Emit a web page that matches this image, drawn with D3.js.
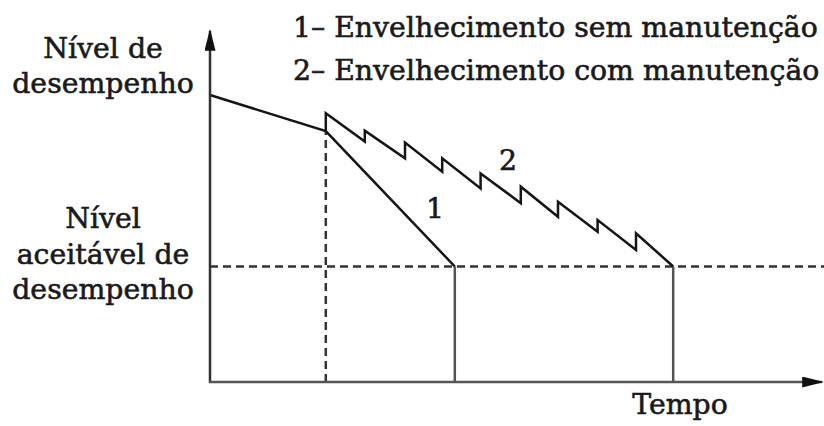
<!DOCTYPE html>
<html>
<head>
<meta charset="utf-8">
<script src="https://cdn.jsdelivr.net/npm/d3@7"></script>
<style>
  html, body { margin: 0; padding: 0; background: #fff; }
  svg { display: block; }
  text { font-family: "DejaVu Serif", serif; fill: #1a1a1a; stroke: #1a1a1a; stroke-width: 0.6; }
</style>
</head>
<body>
<div id="chart"></div>
<script>
// data (time 0-100, performance 0-100)
const interventionTime = 19.3;
const acceptableLevel = 33;

// curve 1: ageing without maintenance
const curve1 = [[0, 82], [19.3, 71.7], [40.8, 33]];

// curve 2: ageing with maintenance (sawtooth: [time, before, after])
const maintenance = [
  [19.3, 71.7, 76.8],
  [25.8, 68.7, 71.8],
  [32.5, 63.9, 68.4],
  [38.7, 60.1, 63.9],
  [45.1, 55.3, 59.6],
  [51.8, 51.1, 55.8],
  [58.0, 47.2, 51.5],
  [64.6, 42.9, 46.3],
  [71.0, 37.7, 42.5]
];
const endOfLife2 = 77.2;

const yLabelTop = ['Nível de', 'desempenho'];
const yLabelAcceptable = ['Nível', 'aceitável de', 'desempenho'];
const legendLines = ['1– Envelhecimento sem manutenção', '2– Envelhecimento com manutenção'];
const xLabel = 'Tempo';

const width = 824, height = 426;

const svg = d3.select('#chart').append('svg')
    .attr('width', width)
    .attr('height', height);

const x = d3.scaleLinear().domain([0, 100]).range([210, 810]);
const y = d3.scaleLinear().domain([0, 100]).range([382, 32]);

const defs = svg.append('defs');
defs.append('marker')
    .attr('id', 'arrow')
    .attr('viewBox', '0 0 10 10')
    .attr('preserveAspectRatio', 'none')
    .attr('refX', 9).attr('refY', 5)
    .attr('markerWidth', 22).attr('markerHeight', 11)
    .attr('markerUnits', 'userSpaceOnUse')
    .attr('orient', 'auto')
    .append('path')
    .attr('d', 'M0,0 L10,5 L0,10 Z')
    .attr('fill', '#111');

const line = d3.line().x((d) => x(d[0])).y((d) => y(d[1]));

// dashed guides
svg.append('line')
    .attr('x1', x(0)).attr('x2', x(103))
    .attr('y1', y(acceptableLevel)).attr('y2', y(acceptableLevel))
    .attr('stroke', '#333').attr('stroke-width', 2.5)
    .attr('stroke-dasharray', '8,5');
svg.append('line')
    .attr('x1', x(interventionTime)).attr('x2', x(interventionTime))
    .attr('y1', y(0)).attr('y2', y(maintenance[0][1]))
    .attr('stroke', '#333').attr('stroke-width', 2.5)
    .attr('stroke-dasharray', '8,5');

// end-of-life verticals
[curve1[curve1.length - 1][0], endOfLife2].forEach((t) => {
  svg.append('line')
      .attr('x1', x(t)).attr('x2', x(t))
      .attr('y1', y(acceptableLevel)).attr('y2', y(0))
      .attr('stroke', '#555').attr('stroke-width', 2.5);
});

// curve 1
svg.append('path')
    .attr('d', line(curve1))
    .attr('fill', 'none')
    .attr('stroke', '#151515')
    .attr('stroke-width', 2.5);

// curve 2
const pts2 = [];
maintenance.forEach((m) => {
  pts2.push([m[0], m[1]]);
  pts2.push([m[0], m[2]]);
});
pts2.push([endOfLife2, acceptableLevel]);
svg.append('path')
    .attr('d', line(pts2))
    .attr('fill', 'none')
    .attr('stroke', '#151515')
    .attr('stroke-width', 2.5)
    .attr('stroke-linejoin', 'miter');

// axes
svg.append('line')
    .attr('x1', x(0)).attr('x2', x(0))
    .attr('y1', y(0) + 1).attr('y2', y(100.3))
    .attr('stroke', '#333').attr('stroke-width', 2.5)
    .attr('marker-end', 'url(#arrow)');
svg.append('line')
    .attr('x1', x(0) - 1).attr('x2', x(102))
    .attr('y1', y(0)).attr('y2', y(0))
    .attr('stroke', '#555').attr('stroke-width', 2.5)
    .attr('marker-end', 'url(#arrow)');

// labels: fit font size so the legend spans the width seen in the picture
const probe = svg.append('text').attr('font-size', 24).text(legendLines[0]);
const fs = 24 * 525 / probe.node().getComputedTextLength();
probe.remove();

const addLines = (lines, cx, baseline, step) => {
  lines.forEach((s, i) => {
    svg.append('text')
        .attr('x', cx).attr('y', baseline + i * step)
        .attr('text-anchor', 'middle')
        .attr('font-size', fs)
        .text(s);
  });
};
addLines(yLabelTop, 103, 58, 35);
addLines(yLabelAcceptable, 103, 228, 35.5);

legendLines.forEach((s, i) => {
  svg.append('text')
      .attr('x', 293).attr('y', 37 + i * 43)
      .attr('font-size', fs)
      .text(s);
});

svg.append('text')
    .attr('x', 680).attr('y', 414)
    .attr('text-anchor', 'middle')
    .attr('font-size', fs)
    .text(xLabel);

svg.append('text')
    .attr('x', 435).attr('y', 218)
    .attr('text-anchor', 'middle')
    .attr('font-size', fs)
    .text('1');
svg.append('text')
    .attr('x', 508).attr('y', 170)
    .attr('text-anchor', 'middle')
    .attr('font-size', fs)
    .text('2');
</script>
</body>
</html>
